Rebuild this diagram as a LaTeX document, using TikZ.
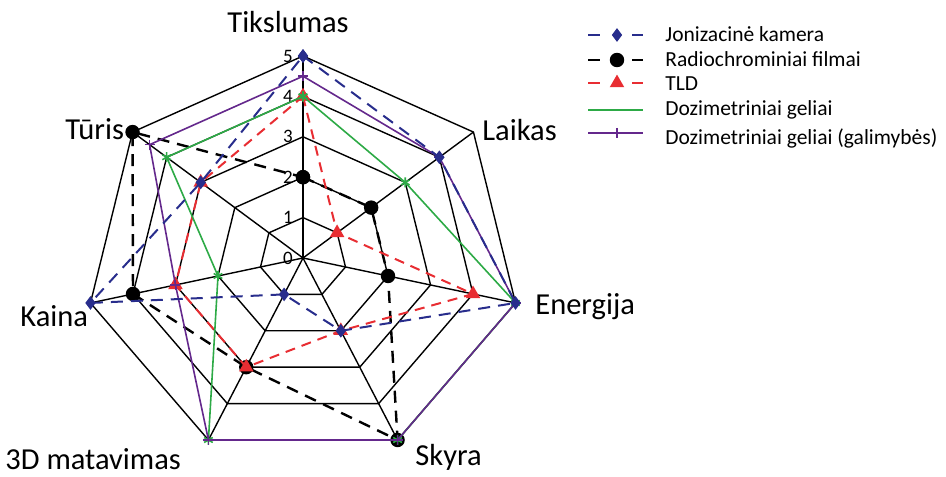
\documentclass[tikz,border=0pt]{standalone}
\usepackage{fontspec}
\setmainfont{Carlito}
\usetikzlibrary{plotmarks}
\definecolor{jkblue}{RGB}{40,45,140}
\definecolor{tldred}{RGB}{232,45,50}
\definecolor{gelgreen}{RGB}{45,170,70}
\definecolor{gelpurple}{RGB}{100,40,140}
\tikzset{
  web/.style={black, line width=0.7pt},
  level/.style={inner sep=0pt, font=\fontsize{9.5pt}{11pt}\selectfont},
  axislabel/.style={inner sep=0pt, anchor=base west, font=\fontsize{15.25pt}{18pt}\selectfont},
  legtext/.style={inner sep=0pt, anchor=base west, font=\fontsize{10.75pt}{13pt}\selectfont},
  jk/.style={jkblue, line width=1pt, dash pattern=on 6pt off 4pt,
    mark=diamond*, mark size=2.6pt, mark options={solid}},
  rf/.style={black, line width=1.2pt, dash pattern=on 6pt off 4pt,
    mark=*, mark size=3pt, mark options={solid}},
  tld/.style={tldred, line width=1pt, dash pattern=on 5pt off 3.5pt,
    mark=triangle*, mark size=3.2pt, mark options={solid}},
  gel/.style={gelgreen, line width=0.8pt, mark=asterisk, mark size=2.5pt},
  gelg/.style={gelpurple, line width=0.8pt, mark=+, mark size=2.5pt},
  legdash/.style={dash pattern=on 6pt off 16pt, mark indices={2}}
}
\begin{document}
\begin{tikzpicture}[x=0.5pt, y=0.5pt]
\useasboundingbox (0,0) rectangle (946,476);
\begin{scope}[shift={(303,218)}, x=21.8pt, y=20.2pt]
% web of the seven axes
\foreach \r in {1,...,5}
  \draw[web] (90:\r) -- (38.57:\r) -- (-12.86:\r) -- (-64.29:\r) -- (-115.71:\r) -- (-167.14:\r) -- (141.43:\r) -- cycle;
\foreach \a in {90,38.57,-12.86,-64.29,-115.71,-167.14,141.43}
  \draw[web] (0,0) -- (\a:5);
\foreach \r in {0,...,5}
  \node[level, xshift=-7.5pt] (l\r) at (90:\r) {\r};
% series
\draw[rf] plot coordinates {(90:2) (38.57:2) (-12.86:2) (-64.29:5) (-115.71:3) (-167.14:4) (141.43:5) (90:2)};
\draw[tld] plot coordinates {(90:4) (38.57:1) (-12.86:4) (-64.29:2) (-115.71:3) (-167.14:3) (141.43:3) (90:4)};
\draw[gel] plot coordinates {(90:4) (38.57:3) (-12.86:5) (-64.29:5) (-115.71:5) (-167.14:2) (141.43:4) (90:4)};
\draw[gelg] plot coordinates {(90:4.5) (38.57:4) (-12.86:5) (-64.29:5) (-115.71:5) (-167.14:3) (141.43:4.5) (90:4.5)};
\draw[jk] plot coordinates {(90:5) (38.57:4) (-12.86:5) (-64.29:2) (-115.71:1) (-167.14:5) (141.43:3) (90:5)};
\end{scope}
% axis labels
\node[axislabel] (tiks) at (227,443) {Tikslumas};
\node[axislabel] (laik) at (482,335) {Laikas};
\node[axislabel] (ener) at (535,161) {Energija};
\node[axislabel] (skyr) at (415,11) {Skyra};
\node[axislabel] (matv) at (5,7) {3D matavimas};
\node[axislabel] (kain) at (20,149) {Kaina};
\node[axislabel] (turi) at (65,336) {Tūris};
% legend
\draw[jk, legdash] plot coordinates {(588,441) (617,441) (643,441)};
\draw[rf, legdash] plot coordinates {(588,416) (617,416) (643,416)};
\draw[tld, legdash] plot coordinates {(588,393) (617,393) (643,393)};
\draw[gel, mark=none, line width=1.2pt] (588,366) -- (643,366);
\draw[gelg, mark indices={2}, line width=1.2pt] plot coordinates {(588,343) (617,343) (643,343)};
\node[legtext] (t1) at (665,434) {Jonizacinė kamera};
\node[legtext] (t2) at (665,409) {Radiochrominiai filmai};
\node[legtext] (t3) at (665,385) {TLD};
\node[legtext] (t4) at (665,360) {Dozimetriniai geliai};
\node[legtext] (t5) at (665,331) {Dozimetriniai geliai (galimybės)};
\end{tikzpicture}
\end{document}
